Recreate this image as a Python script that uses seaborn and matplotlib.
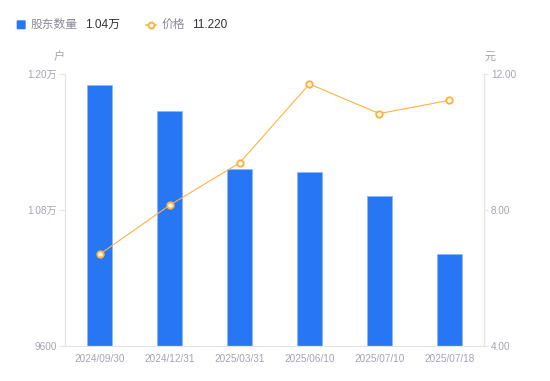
import numpy as np
import matplotlib
matplotlib.use("Agg")
import matplotlib.pyplot as plt
import seaborn as sns
from matplotlib.lines import Line2D
from matplotlib.patches import FancyBboxPatch
from matplotlib.ticker import FuncFormatter

# 数据
dates = ["2024/09/30", "2024/12/31", "2025/03/31", "2025/06/10", "2025/07/10", "2025/07/18"]
holders = [11905, 11670, 11160, 11135, 10920, 10410]
price = [6.70, 8.14, 9.38, 11.70, 10.83, 11.22]

holder_ticks = [9600, 10800, 12000]
price_ticks = [4.0, 8.0, 12.0]

BLUE = "#2777f5"
ORANGE = "#ffb23f"
GRAY = "#a3a3b3"
LINE = "#e3e3e8"

sns.set_theme(style="white")
plt.rcParams["font.family"] = ["Liberation Sans", "Noto Sans CJK SC", "DejaVu Sans"]

W, H = 550, 381
fig = plt.figure(figsize=(W / 100, H / 100), dpi=100)
ax = fig.add_axes([65 / W, 1 - 346 / H, (484 - 65) / W, (346 - 73.8) / H])


def px(x, y):
    # 像素坐标 -> figure 坐标
    return x / W, 1 - y / H


# 柱状图：股东数量
sns.barplot(x=dates, y=holders, ax=ax, color=BLUE, width=0.36,
            edgecolor="#8cb6f9", linewidth=0.5, saturation=1)
ax.set_ylim(holder_ticks[0], holder_ticks[-1])
ax.set_xlim(-0.5, len(dates) - 0.5)
ax.set_yticks(holder_ticks)
ax.yaxis.set_major_formatter(FuncFormatter(
    lambda v, _: f"{v:.0f}" if v < 10000 else f"{v / 10000:.2f}万"))
ax.set_xlabel("")
ax.set_ylabel("")

# 折线：价格
ax2 = ax.twinx()
sns.lineplot(x=np.arange(len(dates)), y=price, ax=ax2, color=ORANGE, linewidth=0.8,
             marker="o", markersize=4.6, markerfacecolor="white",
             markeredgecolor=ORANGE, markeredgewidth=1.4)
ax2.set_ylim(price_ticks[0], price_ticks[-1])
ax2.set_yticks(price_ticks)
ax2.yaxis.set_major_formatter(FuncFormatter(lambda v, _: f"{v:.2f}"))
ax2.set_ylabel("")
ax2.set_xlim(-0.5, len(dates) - 0.5)

# 坐标轴样式
for s in ["top", "right"]:
    ax.spines[s].set_visible(False)
for s in ["top", "left", "bottom"]:
    ax2.spines[s].set_visible(False)
for s in ["left", "bottom"]:
    ax.spines[s].set_color(LINE)
    ax.spines[s].set_linewidth(0.9)
ax2.spines["right"].set_color(LINE)
ax2.spines["right"].set_linewidth(0.9)

ax.tick_params(axis="y", length=4, width=0.8, color=LINE, pad=2, labelsize=7.2, labelcolor=GRAY)
ax.tick_params(axis="x", length=0, pad=6, labelsize=7.2, labelcolor=GRAY)
ax2.tick_params(axis="y", length=3, width=0.8, color=LINE, pad=2, labelsize=7.2, labelcolor=GRAY)

# 单位
fig.text(*px(59, 57), "户", ha="center", va="center", fontsize=8, color=GRAY)
fig.text(*px(490, 57), "元", ha="center", va="center", fontsize=8, color=GRAY)

# 图例
x0, y0 = px(16.7, 29.3)
fig.add_artist(FancyBboxPatch((x0, y0), 9 / W, 9 / H, boxstyle="round,pad=0,rounding_size=0.002",
                              transform=fig.transFigure, facecolor=BLUE, edgecolor="none"))
fig.text(*px(31, 25), "股东数量", ha="left", va="center", fontsize=8.5, color="#8a8a96")
fig.text(*px(85, 25), f"{holders[-1] / 10000:.2f}万", ha="left", va="center", fontsize=8.5, color="#333333")

lx1, ly = px(146, 25)
lx2, _ = px(156, 25)
fig.add_artist(Line2D([lx1, lx2], [ly, ly], transform=fig.transFigure, color=ORANGE, linewidth=1.2))
fig.add_artist(Line2D([(lx1 + lx2) / 2], [ly], transform=fig.transFigure, marker="o", markersize=4.2,
                      markerfacecolor="white", markeredgecolor=ORANGE, markeredgewidth=1.4))
fig.text(*px(162, 25), "价格", ha="left", va="center", fontsize=8.5, color="#8a8a96")
fig.text(*px(192, 25), f"{price[-1]:.3f}", ha="left", va="center", fontsize=8.5, color="#333333")

fig.savefig("out.png", dpi=100)
